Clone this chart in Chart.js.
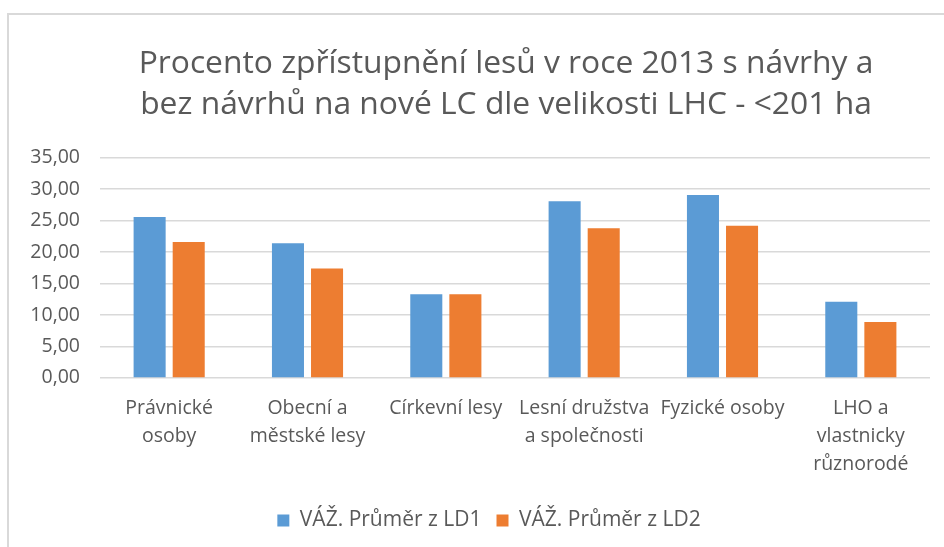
<!DOCTYPE html>
<html>
<head>
<meta charset="utf-8">
<script src="https://cdn.jsdelivr.net/npm/chart.js@4.4.1/dist/chart.umd.min.js"></script>
<style>
  html, body { margin: 0; padding: 0; background: #fff; }
  #wrap { position: relative; width: 944px; height: 547px; }
  #frame {
    position: absolute; left: 7px; top: 13px; right: 0; bottom: 0;
    border-left: 2px solid #d9d9d9; border-top: 2px solid #d9d9d9;
  }
  canvas { position: absolute; left: 0; top: 0; }
</style>
</head>
<body>
<div id="wrap">
  <div id="frame"></div>
  <canvas id="chart" width="944" height="547"></canvas>
</div>
<script>
const categories = [
  ["Právnické", "osoby"],
  ["Obecní a", "městské lesy"],
  "Církevní lesy",
  ["Lesní družstva", "a společnosti"],
  "Fyzické osoby",
  ["LHO a", "vlastnicky", "různorodé"],
];
const ld1 = [25.6, 21.4, 13.3, 28.1, 29.1, 12.1];
const ld2 = [21.6, 17.4, 13.3, 23.8, 24.2, 8.9];
const seriesNames = ["VÁŽ. Průměr z LD1", "VÁŽ. Průměr z LD2"];
const titleLines = [
  "Procento zpřístupnění lesů v roce 2013 s návrhy a",
  "bez návrhů na nové LC dle velikosti LHC - <201 ha",
];

const textColor = "#595959";
const font = "'Open Sans', sans-serif";

// Excel centres title and legend differently from Chart.js, nudge them sideways
function shiftBox(chart, box, dx) {
  if (!box || box._shifted) return;
  const draw = box.draw.bind(box);
  box.draw = function () {
    chart.ctx.save();
    chart.ctx.translate(dx, 0);
    draw();
    chart.ctx.restore();
  };
  box._shifted = true;
}
const boxShift = {
  id: "boxShift",
  afterLayout(chart) {
    shiftBox(chart, chart.titleBlock, 41);
    shiftBox(chart, chart.legend, 24);
  },
};

const ctx = document.getElementById("chart").getContext("2d");

new Chart(ctx, {
  type: "bar",
  data: {
    labels: categories,
    datasets: [
      {
        label: seriesNames[0],
        data: ld1,
        backgroundColor: "#5b9bd5",
        barPercentage: 0.82,
        categoryPercentage: 0.565,
      },
      {
        label: seriesNames[1],
        data: ld2,
        backgroundColor: "#ed7d31",
        barPercentage: 0.82,
        categoryPercentage: 0.565,
      },
    ],
  },
  plugins: [boxShift],
  options: {
    responsive: false,
    animation: false,
    layout: {
      padding: { left: 0, right: 14, top: 0, bottom: 6 },
    },
    plugins: {
      title: {
        display: true,
        text: titleLines,
        color: textColor,
        font: { family: font, size: 31.8, weight: "normal", lineHeight: 1.27 },
        padding: { top: 44, bottom: 33 },
      },
      legend: {
        position: "bottom",
        labels: {
          color: textColor,
          font: { family: font, size: 21 },
          boxWidth: 12,
          boxHeight: 12,
          padding: 15,
        },
      },
      tooltip: { enabled: false },
    },
    scales: {
      x: {
        grid: { display: false, drawTicks: false },
        border: { display: false },
        ticks: {
          color: textColor,
          font: { family: font, size: 19.5, lineHeight: 1.42 },
          maxRotation: 0,
          autoSkip: false,
          padding: 17,
        },
      },
      y: {
        min: 0,
        max: 35,
        afterFit: (scale) => { scale.width = 100; },
        grid: { color: "#d9d9d9", lineWidth: 1.5, drawTicks: false },
        border: { display: false },
        ticks: {
          stepSize: 5,
          color: textColor,
          font: { family: font, size: 19.5 },
          padding: 20,
          callback: (v) => v.toFixed(2).replace(".", ","),
        },
      },
    },
  },
});
</script>
</body>
</html>
